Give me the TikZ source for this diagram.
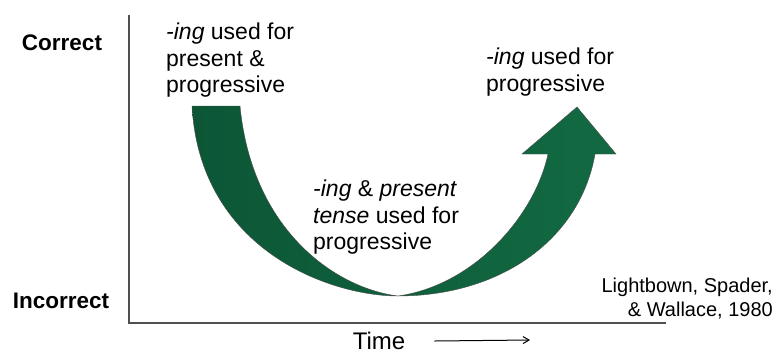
\documentclass[tikz,border=0pt]{standalone}
\usepackage{fontspec}
\setmainfont{Liberation Sans}
\usetikzlibrary{calc}
\usetikzlibrary{positioning}
\usetikzlibrary{arrows.meta}
\definecolor{arrowdark}{RGB}{12,86,54}
\definecolor{arrowlight}{RGB}{18,106,66}
\definecolor{axisgray}{RGB}{80,80,80}

\begin{document}
\begin{tikzpicture}[x=1pt, y=-1pt,
    levellabel/.style={font=\bfseries\fontsize{22.5}{26}\selectfont},
    stagelabel/.style={font=\fontsize{23}{26.5}\selectfont, align=left, inner sep=0pt, anchor=north west},
    axisline/.style={draw=axisgray, line width=1.3pt}]
            \useasboundingbox (0,0) rectangle (778,357);

            % Axes
            \coordinate (ytop) at (129,15);
            \coordinate (origin) at (129,323);
            \coordinate (xend) at (666,323);
            \draw[axisline] (ytop) -- (origin) -- (xend);

            % Level labels
            \node[levellabel] (correct) at (62,43) {Correct};
            \node[levellabel] (incorrect) at (61,301) {Incorrect};

            % U-shaped arrow
            \shade[left color=arrowdark, right color=arrowlight, draw=black!70, line width=0.4pt]
                (192,106) .. controls (200,250) and (330,296) .. (398,296)
                .. controls (500,296) and (580,240) .. (595,154)
                -- (616,154) -- (577,107) -- (522,154) -- (548,154)
                .. controls (535,215) and (475,285) .. (398,296)
                .. controls (335,288) and (252,230) .. (240,106) -- cycle;

            % Stage labels
            \node[stagelabel] (stageone) at (166,23) {\textit{-ing} used for\\present \&\\progressive};
            \node[stagelabel] (stagetwo) at (313,180) {\textit{-ing} \& \textit{present}\\\textit{tense} used for\\progressive};
            \node[stagelabel] (stagethree) at (486,48) {\textit{-ing} used for\\progressive};

            % Source
            \node[font=\fontsize{20}{24}\selectfont, align=right, inner sep=0pt, anchor=north east] (source) at (773,278) {Lightbown, Spader,\\\& Wallace, 1980};

            % Time axis label
            \node[font=\fontsize{24}{28}\selectfont, inner sep=0pt] (time) at (379,341) {Time};
            \coordinate (timeend) at (530,340);
            \draw[-{Straight Barb[length=6pt,width=7pt]}, line width=1pt] ([xshift=29pt]time.east) -- (timeend);

        \end{tikzpicture}
\end{document}
